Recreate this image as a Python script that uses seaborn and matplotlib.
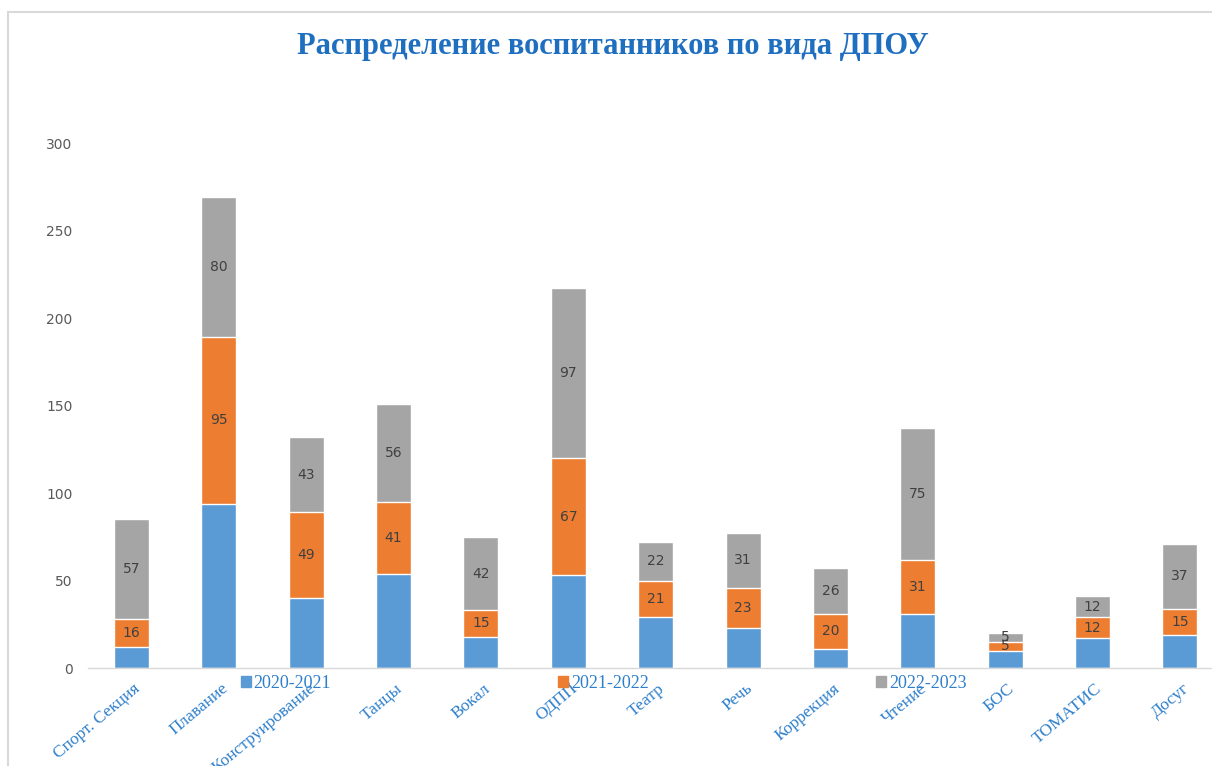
import matplotlib
matplotlib.use("Agg")
import matplotlib.pyplot as plt
import matplotlib.patches as mpatches
import matplotlib.transforms as mtransforms
import numpy as np
import pandas as pd
import seaborn as sns

# data
categories = ['Спорт. Секция', 'Плавание', 'Конструирование', 'Танцы', 'Вокал', 'ОДПП',
              'Театр', 'Речь', 'Коррекция', 'Чтение', 'БОС', 'ТОМАТИС', 'Досуг']
y2020 = [12, 94, 40, 54, 18, 53, 29, 23, 11, 31, 10, 17, 19]
y2021 = [16, 95, 49, 41, 15, 67, 21, 23, 20, 31, 5, 12, 15]
y2022 = [57, 80, 43, 56, 42, 97, 22, 31, 26, 75, 5, 12, 37]
series = ['2020-2021', '2021-2022', '2022-2023']

blue, orange, grey = '#5B9BD5', '#ED7D31', '#A5A5A5'
label_blue = '#2E7FCB'

df = pd.DataFrame({'cat': categories, 'a': y2020, 'b': y2021, 'c': y2022})
df['ab'] = df['a'] + df['b']
df['abc'] = df['ab'] + df['c']

sns.set_style('white')
fig = plt.figure(figsize=(12.12, 7.66), dpi=100)
ax = fig.add_axes([0.0724, 0.1279, 0.9372, 0.6854])

# stacked bars: draw cumulative totals from back to front
sns.barplot(data=df, x='cat', y='abc', color=grey, width=0.4, saturation=1, ax=ax)
sns.barplot(data=df, x='cat', y='ab', color=orange, width=0.4, saturation=1, ax=ax)
sns.barplot(data=df, x='cat', y='a', color=blue, width=0.4, saturation=1, ax=ax)

# segment labels for the two upper series
for i in range(len(df)):
    ax.text(i, df['a'][i] + df['b'][i] / 2, str(df['b'][i]), ha='center', va='center',
            fontsize=10, color='#404040')
    ax.text(i, df['ab'][i] + df['c'][i] / 2, str(df['c'][i]), ha='center', va='center',
            fontsize=10, color='#404040')

ax.set_xlim(-0.5, 12.5)
ax.set_ylim(0, 300)
ax.set_yticks(range(0, 301, 50))
ax.tick_params(axis='y', length=0, pad=11, labelsize=10, labelcolor='#595959')
ax.tick_params(axis='x', length=0, pad=9)
ax.set_xlabel('')
ax.set_ylabel('')
ax.set_xticks(range(len(categories)))
ax.set_xticklabels(categories, rotation=40, ha='right', rotation_mode='anchor',
                   family='Liberation Serif', fontsize=12.5, color=label_blue)
shift = mtransforms.ScaledTranslation(2 / 100, 0, fig.dpi_scale_trans)
for lbl in ax.get_xticklabels():
    lbl.set_transform(lbl.get_transform() + shift)
for s in ['top', 'right', 'left']:
    ax.spines[s].set_visible(False)
ax.spines['bottom'].set_color('#D9D9D9')
ax.spines['bottom'].set_linewidth(1)

handles = [mpatches.Patch(color=c, label=l) for c, l in zip([blue, orange, grey], series)]
leg = fig.legend(handles=handles, loc='center', bbox_to_anchor=(0.498, 0.108), ncol=3,
                 frameon=False, handlelength=0.55, handleheight=0.55, handletextpad=0.15,
                 columnspacing=12.6, prop={'family': 'Liberation Serif', 'size': 13})
for t in leg.get_texts():
    t.set_color(label_blue)

fig.text(0.506, 0.939, 'Распределение воспитанников по вида ДПОУ', ha='center', va='center',
         family='Liberation Serif', fontweight='bold', fontsize=22, color='#1F6FC0')

# outer chart frame
fig.patches.append(mpatches.Rectangle((8 / 1212, -0.1), 1.2, 0.1 + (766 - 12) / 766,
                                      transform=fig.transFigure, fill=False,
                                      edgecolor='#D9D9D9', linewidth=1.5))

fig.savefig('out.png', dpi=100)
